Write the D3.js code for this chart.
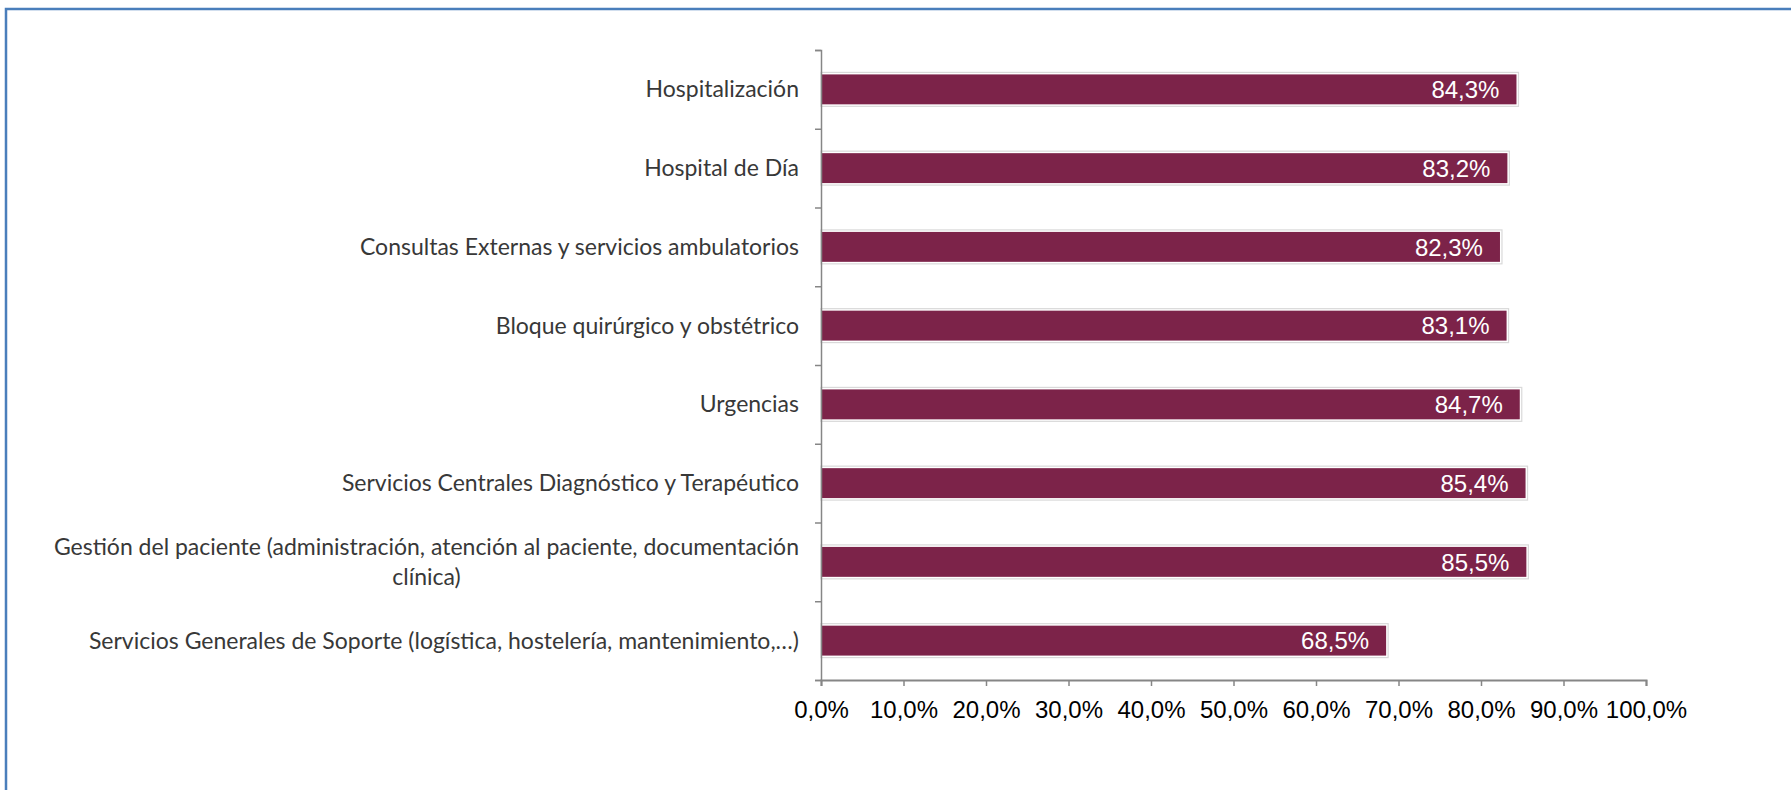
<!DOCTYPE html>
<html>
<meta charset="utf-8">
<script src="https://cdn.jsdelivr.net/npm/d3@7/dist/d3.min.js"></script>
<title>Satisfacción por área</title>
<style>
body { margin: 0; background: #fff; }
</style>
<body>
<script type="text/javascript">

var categories = [
    "Hospitalización",
    "Hospital de Día",
    "Consultas Externas y servicios ambulatorios",
    "Bloque quirúrgico y obstétrico",
    "Urgencias",
    "Servicios Centrales Diagnóstico y Terapéutico",
    "Gestión del paciente (administración, atención al paciente, documentación|clínica)",
    "Servicios Generales de Soporte (logística, hostelería, mantenimiento,…)"
];
var values = [84.3, 83.2, 82.3, 83.1, 84.7, 85.4, 85.5, 68.5];
var ticks = [0, 10, 20, 30, 40, 50, 60, 70, 80, 90, 100];

var size = { width : 1791, height : 790 };
var plot = { left : 821, right : 1646, top : 50, bottom : 680 };

var fmt = function(d){ return d.toFixed(1).replace(".", ",") + "%"; };

var svg = d3.select("body")
    .append("svg")
    .attr("width", size.width)
    .attr("height", size.height);

// frame
svg.append("rect")
    .attr("x", 6).attr("y", 9)
    .attr("width", size.width + 20).attr("height", size.height + 20)
    .style("fill", "none")
    .style("stroke", "#4a7ebb")
    .style("stroke-width", 2.5);

var xScale = d3.scaleLinear()
    .domain([0, 100])
    .range([plot.left, plot.right]);
var yScale = d3.scaleBand()
    .domain(categories)
    .range([plot.top, plot.bottom]);

var barH = yScale.bandwidth() * 0.38;

// bars
var bars = svg.selectAll(".bar")
    .data(values)
    .enter()
    .append("g")
    .attr("class", "bar");

bars.append("rect")
    .attr("x", xScale(0))
    .attr("y", function(d, i){ return yScale(categories[i]) + (yScale.bandwidth() - barH) / 2 - 2; })
    .attr("width", function(d){ return xScale(d) - xScale(0) + 2; })
    .attr("height", barH + 4)
    .style("fill", "none")
    .style("stroke", "#d9d9d9")
    .style("stroke-width", 1.2);

bars.append("rect")
    .attr("x", xScale(0))
    .attr("y", function(d, i){ return yScale(categories[i]) + (yScale.bandwidth() - barH) / 2; })
    .attr("width", function(d){ return xScale(d) - xScale(0); })
    .attr("height", barH)
    .style("fill", "#7c2349");

bars.append("text")
    .attr("x", function(d){ return xScale(d) - 17; })
    .attr("y", function(d, i){ return yScale(categories[i]) + yScale.bandwidth() / 2; })
    .attr("dy", "0.36em")
    .style("text-anchor", "end")
    .style("font", "24px 'Liberation Sans', Arial, sans-serif")
    .style("fill", "#fff")
    .text(function(d){ return fmt(d); });

// y axis
svg.append("g")
    .attr("transform", "translate(" + plot.left + ",0)")
    .call(d3.axisLeft(d3.scaleLinear().domain([0, categories.length]).range([plot.top, plot.bottom]))
        .ticks(categories.length).tickSize(6).tickFormat(""))
    .call(function(g){
        g.select(".domain").style("stroke", "#868686").style("stroke-width", 1.5);
        g.selectAll(".tick line").style("stroke", "#868686").style("stroke-width", 1.5);
    });

// category labels (wrapped lines centered on the widest line)
var labelRight = plot.left - 22;
categories.forEach(function(c, i){
    var lines = c.split("|");
    var g = svg.append("g").attr("class", "cat");
    var cy = yScale(c) + yScale.bandwidth() / 2;
    var lh = 30;
    var texts = lines.map(function(l, j){
        return g.append("text")
            .attr("y", cy + (j - (lines.length - 1) / 2) * lh)
            .attr("dy", "0.35em")
            .style("font", "23px Lato, sans-serif")
            .style("fill", "#383838")
            .style("text-anchor", "middle")
            .text(l);
    });
    var w = d3.max(texts, function(t){ return t.node().getComputedTextLength(); });
    texts.forEach(function(t){ t.attr("x", labelRight - w / 2); });
});

// x axis
svg.append("g")
    .attr("transform", "translate(0," + plot.bottom + ")")
    .call(d3.axisBottom(xScale).tickValues(ticks).tickSize(6).tickPadding(15).tickFormat(fmt))
    .call(function(g){
        g.select(".domain").style("stroke", "#868686").style("stroke-width", 2);
        g.selectAll(".tick line").style("stroke", "#868686").style("stroke-width", 1.5);
        g.selectAll("text")
            .style("font", "24px 'Liberation Sans', Arial, sans-serif")
            .style("fill", "#000");
    });

</script>
</body>
</html>
